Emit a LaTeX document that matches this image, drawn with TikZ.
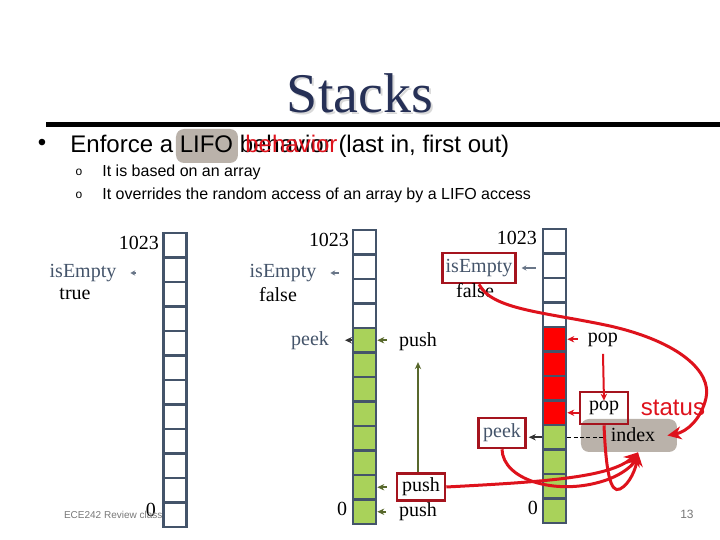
\documentclass[tikz,border=0pt]{standalone}
\usepackage{fontspec}
\setmainfont{Liberation Serif}
\setsansfont{Liberation Sans}
\usetikzlibrary{arrows.meta}

\definecolor{slate}{RGB}{68,84,106}
\definecolor{navy}{RGB}{38,48,86}
\definecolor{cellgreen}{RGB}{169,210,90}
\definecolor{cellred}{RGB}{255,0,0}
\definecolor{boxred}{RGB}{165,20,30}
\definecolor{curvered}{RGB}{222,18,28}
\definecolor{olive}{RGB}{88,104,44}
\definecolor{hl}{RGB}{186,178,170}
\definecolor{foot}{RGB}{120,120,120}

\begin{document}
\begin{tikzpicture}[x=.5pt,y=-.5pt,
  font=\fontsize{10}{12}\selectfont,
  cell/.style={draw=slate,line width=1.3pt,minimum width=11.5pt,
               minimum height=12.25pt,inner sep=0pt},
  op/.style={text=slate},
  hotbox/.style={draw=boxred,line width=1.3pt,inner sep=1.5pt},
  smallarr/.style={-{Stealth[length=3.5pt,width=3.2pt]},line width=1pt},
  thinarr/.style={-{Stealth[length=2.4pt,width=2.6pt]},line width=.8pt,draw=slate!80},
  redcurve/.style={draw=curvered,line width=1.5pt,
                   -{Stealth[length=7pt,width=6.5pt]}},
  body/.style={font=\sffamily\fontsize{12}{14}\selectfont,inner sep=0pt},
  subtext/.style={font=\sffamily\fontsize{8}{10}\selectfont,inner sep=0pt}]
\useasboundingbox (0,0) rectangle (720,540);

% slide heading
\node[text=black!15,font=\fontsize{28}{32}\selectfont] (titleshadow) at (362,95) {Stacks};
\node[text=navy,font=\fontsize{28}{32}\selectfont] (title) at (360,93) {Stacks};
\fill (46,122.5) rectangle (720,127.5);
\fill[hl,rounded corners=4pt] (176,129) rectangle (238,163);
\node[body] (bullet) at (42,145) {\textbullet};
\node[body,anchor=base west] (enforce) at (70,153)
  {Enforce a LIFO behavior (last in, first out)};
\node[body,anchor=base west,text=curvered] (behavior) at (245,153) {behavior};
\node[subtext,font=\sffamily\fontsize{6}{7}\selectfont] (oa) at (79,172) {o};
\node[subtext,font=\sffamily\fontsize{6}{7}\selectfont] (ob) at (79,195) {o};
\node[subtext,anchor=west] (basedon) at (102,172) {It is based on an array};
\node[subtext,anchor=west] (overrides) at (102,195)
  {It overrides the random access of an array by a LIFO access};

% the three arrays: white, red (popped) and green (pushed) cells
\foreach \p/\xc/\top/\nw/\nr in {a/175/233/12/0, b/364.5/230/4/0, c/554.5/229/4/4}{
  \foreach \i in {1,...,12}{
    \ifnum\i>\nw\relax
      \ifnum\i>\numexpr\nw+\nr\relax\def\cf{cellgreen}\else\def\cf{cellred}\fi
    \else\def\cf{white}\fi
    \node[cell,fill=\cf] (\p cell\i) at (\xc,\top+24.5*\i-12.25) {};
  }
}

% empty array
\node (a1023) at (139,243) {1023};
\node[op] (aempty) at (83,273) {isEmpty};
\node (atrue) at (75,294) {true};
\node (a0) at (151,510) {0};
\draw[thinarr,shorten >=3.5pt] ([xshift=-13pt]acell2.west |- aempty.east) -- (aempty.east);

% pushed array
\node (b1023) at (329,240) {1023};
\node[op] (bempty) at (283,273) {isEmpty};
\node (bfalse) at (278,295) {false};
\node[op] (bpeek) at (310,341) {peek};
\node (bpush) at (418,342) {push};
\node[hotbox,minimum width=24pt,minimum height=13.5pt] (bpushb) at (421,487) {push};
\node (bpushl) at (418,512) {push};
\node (b0) at (342,509) {0};
\draw[thinarr,shorten >=3.5pt] ([xshift=-6.5pt]bcell2.west |- bempty.east) -- (bempty.east);
\draw[smallarr,draw=black!80,shorten >=4.5pt] (bcell5.west) -- (bpeek.east |- bcell5.west);
\draw[smallarr,draw=olive,shorten <=2.5pt] (bpush.west |- bcell5.east) -- (bcell5.east);
\draw[smallarr,draw=olive,shorten <=4.5pt] (bpushb.west |- bcell11.east) -- (bcell11.east);
\draw[smallarr,draw=olive,shorten <=3pt] (bpushl.west |- bcell12.east) -- (bcell12.east);
\draw[smallarr,draw=olive,shorten >=2pt] (bpush.south |- bpushb.north) -- (bpush.south);

% popped array
\node (c1023) at (517,238) {1023};
\node[op,hotbox,minimum height=15pt] (cempty) at (479,268) {isEmpty};
\node (cfalse) at (475,291) {false};
\node (cpop) at (603,340) {pop};
\node[fill=hl,rounded corners=4pt,minimum width=48pt,minimum height=16.5pt] (cidxbg) at (629,435.5) {};
\node (cidx) at (633,435) {index};
\node[hotbox,minimum width=24pt,minimum height=16pt] (cpopb) at (604,408) {pop};
\node[op,hotbox,minimum width=23.5pt,minimum height=15pt] (cpeek) at (502,433) {peek};
\node (c0) at (533,508) {0};
\node[text=curvered,font=\sffamily\fontsize{12}{14}\selectfont] (status) at (673,408) {status};
\draw[thinarr,shorten >=2.5pt] ([xshift=-3pt]ccell2.west |- cempty.east) -- (cempty.east);
\draw[smallarr,draw=curvered,shorten <=1.5pt] (cpop.west |- ccell5.east) -- (ccell5.east);
\draw[smallarr,draw=curvered] (cpop.south) -- ([yshift=-5pt]cpopb.north);
\draw[smallarr,draw=curvered] (cpopb.west |- ccell8.east) -- (ccell8.east);
\draw[smallarr,draw=black!80,shorten >=1pt] (ccell9.west) -- (cpeek.east |- ccell9.west);
\draw[dash pattern=on 2pt off 1.2pt,line width=.5pt] (ccell9.east) -- (cidx.west |- ccell9.east);

% red strokes linking the operations to the status
\draw[redcurve] (cempty.south) .. controls (492,310) and (545,312) .. (610,326)
  .. controls (680,342) and (712,372) .. (706,398)
  .. controls (701,420) and (686,432) .. ([xshift=-5pt]cidxbg.east);
\draw[redcurve] (cpeek.south) .. controls (503,480) and (555,495) .. (600,482)
  .. controls (622,476) and (634,464) .. ([xshift=4.5pt]cidxbg.south);
\draw[redcurve] (bpushb.east) .. controls (540,482) and (610,478) .. ([xshift=4.5pt]cidxbg.south);
\draw[redcurve] (cpopb.south) .. controls (606,470) and (610,494) .. (620,489)
  .. controls (630,484) and (636,468) .. ([xshift=4.5pt]cidxbg.south);

% footer
\node[font=\sffamily\fontsize{5}{6}\selectfont,text=foot,anchor=west] (footer) at (57,515) {ECE242 Review class};
\node[font=\sffamily\fontsize{6}{7}\selectfont,text=foot] (pagenum) at (687,514) {13};
\end{tikzpicture}
\end{document}
